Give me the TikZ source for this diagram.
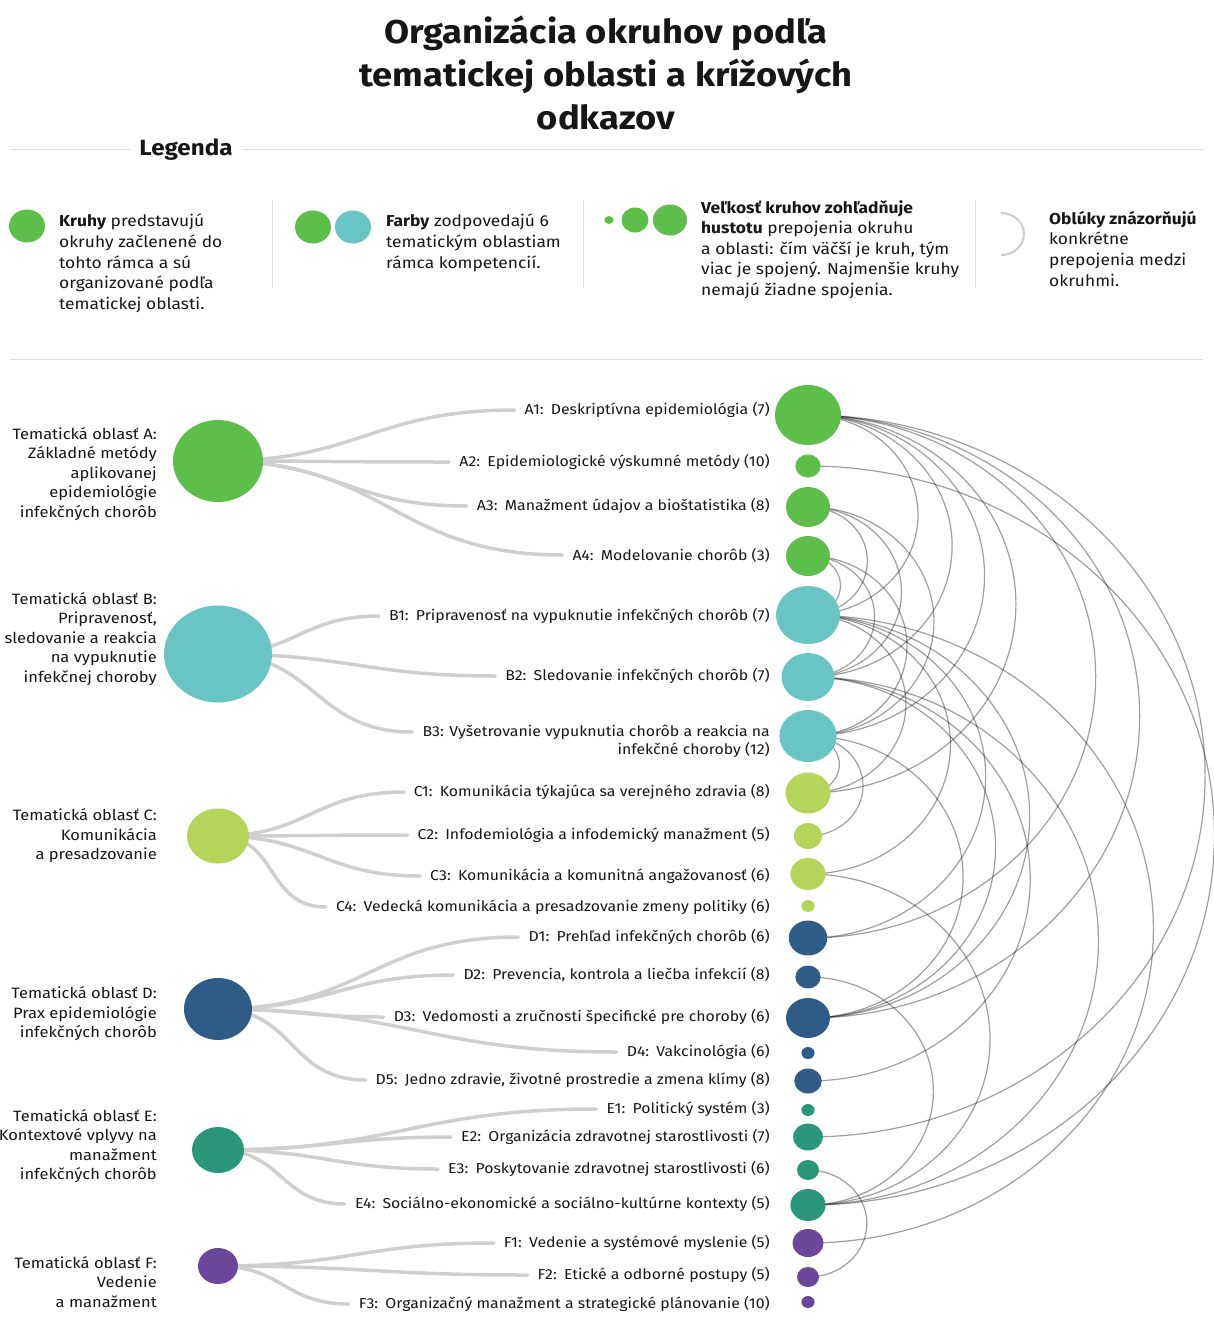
\documentclass[tikz,border=0pt]{standalone}
\usepackage{fontspec}
\setmainfont{Fira Sans}[FakeStretch=1.1]
\usetikzlibrary{calc,backgrounds,shapes.geometric}

\definecolor{areaA}{HTML}{5DBE4A}
\definecolor{areaB}{HTML}{69C4C4}
\definecolor{areaC}{HTML}{B5D55A}
\definecolor{areaD}{HTML}{2E5C87}
\definecolor{areaE}{HTML}{2A977B}
\definecolor{areaF}{HTML}{6B4799}
\definecolor{branchgray}{HTML}{CFCFCF}
\definecolor{rulegray}{HTML}{DDDDDD}
\definecolor{ink}{HTML}{161616}

\tikzset{
  lbl/.style={font=\fontsize{14.4}{18}\selectfont, text=ink, inner xsep=10pt, inner ysep=0pt, anchor=east},
  area/.style={font=\fontsize{15}{19.5}\selectfont, text=ink, align=right, anchor=east, inner sep=0pt},
  legtxt/.style={font=\fontsize{15.8}{20.6}\selectfont, text=ink, align=left, anchor=north west, inner sep=0pt},
  topic/.style={ellipse, inner sep=0pt},
  branch/.style={draw=branchgray, line width=3.5pt, line cap=round},
  link/.style={draw=black, draw opacity=0.38, line width=1.2pt},
}

% oblúk medzi dvoma okruhmi
\newcommand{\okruharc}[2]{%
  \draw[link] let \p1=(#1.center), \p2=(#2.center), \n1={(\y1-\y2)/2} in
    (\p1) arc[start angle=90, end angle=-90, x radius=1.1*\n1, y radius=\n1];}

\begin{document}
\begin{tikzpicture}[x=1pt,y=1pt]
\useasboundingbox (0,0) rectangle (1213,-1320);

\node[font=\fontsize{33}{43}\selectfont\bfseries, align=center, text=ink] (title) at (606,-73)
  {Organizácia okruhov podľa\\tematickej oblasti a krížových\\odkazov};

% legenda
\draw[rulegray, line width=1pt] (10,-149) -- (1203,-149);
\node[fill=white, inner xsep=9pt, font=\fontsize{22}{25}\selectfont\bfseries, text=ink] (legenda) at (186,-150) {Legenda};
\draw[rulegray, line width=1pt] (10,-359) -- (1203,-359);
\foreach \x in {272,583,975}
  \draw[rulegray] (\x,-200) -- (\x,-288);

\node[topic, fill=areaA, minimum width=36, minimum height=33] (k1) at (27,-226) {};
\node[legtxt] (t1) at (59,-214) {\textbf{Kruhy} predstavujú\\okruhy začlenené do\\tohto rámca a sú\\organizované podľa\\tematickej oblasti.};
\node[topic, fill=areaA, minimum width=36, minimum height=33] (k2) at (313,-227) {};
\node[topic, fill=areaB, minimum width=36, minimum height=33] (k3) at (353,-227) {};
\node[legtxt] (t2) at (386,-214) {\textbf{Farby} zodpovedajú 6\\tematickým oblastiam\\rámca kompetencií.};
\node[topic, fill=areaA, minimum width=9, minimum height=8] (k4) at (609,-220) {};
\node[topic, fill=areaA, minimum width=27, minimum height=25] (k5) at (635,-220) {};
\node[topic, fill=areaA, minimum width=34, minimum height=31] (k6) at (670,-220) {};
\node[legtxt] (t3) at (701,-200) {\textbf{Veľkosť kruhov zohľadňuje}\\\textbf{hustotu} prepojenia okruhu\\a oblasti: čím väčší je kruh, tým\\viac je spojený. Najmenšie kruhy\\nemajú žiadne spojenia.};
\draw[black!20, line width=2pt] (1001,-213) arc[start angle=90, end angle=-90, x radius=23, y radius=21];
\node[legtxt] (t4) at (1049,-211) {\textbf{Oblúky znázorňujú}\\konkrétne\\prepojenia medzi\\okruhmi.};

% tematické oblasti
\node[topic, fill=areaA, minimum width=90, minimum height=82] (gA) at (218,-461) {};
\node[topic, fill=areaB, minimum width=108, minimum height=97] (gB) at (218,-654) {};
\node[topic, fill=areaC, minimum width=62, minimum height=55] (gC) at (218,-836) {};
\node[topic, fill=areaD, minimum width=68, minimum height=62] (gD) at (218,-1009) {};
\node[topic, fill=areaE, minimum width=52, minimum height=46] (gE) at (218,-1150) {};
\node[topic, fill=areaF, minimum width=40, minimum height=36] (gF) at (218,-1266) {};

\node[area] (tA) at (157,-474) {Tematická oblasť A:\\Základné metódy\\aplikovanej\\epidemiológie\\infekčných chorôb};
\node[area] (tB) at (157,-639) {Tematická oblasť B:\\Pripravenosť,\\sledovanie a reakcia\\na vypuknutie\\infekčnej choroby};
\node[area] (tC) at (157,-836) {Tematická oblasť C:\\Komunikácia\\a presadzovanie};
\node[area] (tD) at (157,-1014) {Tematická oblasť D:\\Prax epidemiológie\\infekčných chorôb};
\node[area] (tE) at (157,-1146) {Tematická oblasť E:\\Kontextové vplyvy na\\manažment\\infekčných chorôb};
\node[area] (tF) at (157,-1282) {Tematická oblasť F:\\Vedenie\\a manažment};

% okruhy
\foreach \n/\y/\r/\c in {A1/415/30/areaA, A2/466/11.5/areaA, A3/507/20/areaA, A4/556/20/areaA,
    B1/615/29/areaB, B2/677/24/areaB, B3/736/26/areaB,
    C1/793/20.5/areaC, C2/836/13/areaC, C3/874/16/areaC, C4/906/6/areaC,
    D1/938/17.5/areaD, D2/977/11.5/areaD, D3/1018/20/areaD, D4/1053/6/areaD, D5/1081/12.5/areaD,
    E1/1110/6/areaE, E2/1137/13.5/areaE, E3/1170/10/areaE, E4/1205/16/areaE,
    F1/1243/14/areaF, F2/1277/10/areaF, F3/1302/6/areaF}
  \node[topic, fill=\c, minimum height=2*\r, minimum width=2.2*\r] (\n) at (808,-\y) {};

\node[lbl] (lA1) at (780,-410) {A1:\enspace Deskriptívna epidemiológia (7)};
\node[lbl] (lA2) at (780,-462) {A2:\enspace Epidemiologické výskumné metódy (10)};
\node[lbl] (lA3) at (780,-506) {A3:\enspace Manažment údajov a bioštatistika (8)};
\node[lbl] (lA4) at (780,-555) {A4:\enspace Modelovanie chorôb (3)};
\node[lbl] (lB1) at (780,-616) {B1:\enspace Pripravenosť na vypuknutie infekčných chorôb (7)};
\node[lbl] (lB2) at (780,-676) {B2:\enspace Sledovanie infekčných chorôb (7)};
\node[lbl, align=right] (lB3) at (780,-741) {B3: Vyšetrovanie vypuknutia chorôb a reakcia na\\infekčné choroby (12)};
\node[lbl] (lC1) at (780,-792) {C1:\enspace Komunikácia týkajúca sa verejného zdravia (8)};
\node[lbl] (lC2) at (780,-835) {C2:\enspace Infodemiológia a infodemický manažment (5)};
\node[lbl] (lC3) at (780,-876) {C3:\enspace Komunikácia a komunitná angažovanosť (6)};
\node[lbl] (lC4) at (780,-907) {C4:\enspace Vedecká komunikácia a presadzovanie zmeny politiky (6)};
\node[lbl] (lD1) at (780,-937) {D1:\enspace Prehľad infekčných chorôb (6)};
\node[lbl] (lD2) at (780,-975) {D2:\enspace Prevencia, kontrola a liečba infekcií (8)};
\node[lbl] (lD3) at (780,-1017) {D3:\enspace Vedomosti a zručnosti špecifické pre choroby (6)};
\node[lbl] (lD4) at (780,-1052) {D4:\enspace Vakcinológia (6)};
\node[lbl] (lD5) at (780,-1080) {D5:\enspace Jedno zdravie, životné prostredie a zmena klímy (8)};
\node[lbl] (lE1) at (780,-1109) {E1:\enspace Politický systém (3)};
\node[lbl] (lE2) at (780,-1137) {E2:\enspace Organizácia zdravotnej starostlivosti (7)};
\node[lbl] (lE3) at (780,-1169) {E3:\enspace Poskytovanie zdravotnej starostlivosti (6)};
\node[lbl] (lE4) at (780,-1204) {E4:\enspace Sociálno-ekonomické a sociálno-kultúrne kontexty (5)};
\node[lbl] (lF1) at (780,-1243) {F1:\enspace Vedenie a systémové myslenie (5)};
\node[lbl] (lF2) at (780,-1275) {F2:\enspace Etické a odborné postupy (5)};
\node[lbl] (lF3) at (780,-1304) {F3:\enspace Organizačný manažment a strategické plánovanie (10)};

\begin{pgfonlayer}{background}
  \foreach \g/\t in {gA/A1, gA/A2, gA/A3, gA/A4, gB/B1, gB/B2, gC/C1, gC/C2, gC/C3, gC/C4,
      gD/D1, gD/D2, gD/D3, gD/D4, gD/D5, gE/E1, gE/E2, gE/E3, gE/E4, gF/F1, gF/F2, gF/F3}
    \draw[branch] (\g.center) to[out=0, in=180, looseness=1.2] (l\t.west);
  \draw[branch] (gB.center) to[out=0, in=180, looseness=1.2] ([yshift=9pt]lB3.west);
  % prepojenia medzi okruhmi
  \foreach \a/\b in {A1/B1, A1/B2, A1/B3, A1/C1, A1/D1, A1/D3, A1/E2, A2/E4,
      A3/B1, A3/B2, A3/B3, A4/B1, A4/B2, A4/B3,
      B1/C1, B1/C3, B1/D1, B1/D3, B1/F1, B2/D3, B2/D5, B2/E4,
      B3/C1, B3/C2, B3/D3, C3/E4, D2/E4, E3/F2}
    {\okruharc{\a}{\b}}
\end{pgfonlayer}
\end{tikzpicture}
\end{document}
